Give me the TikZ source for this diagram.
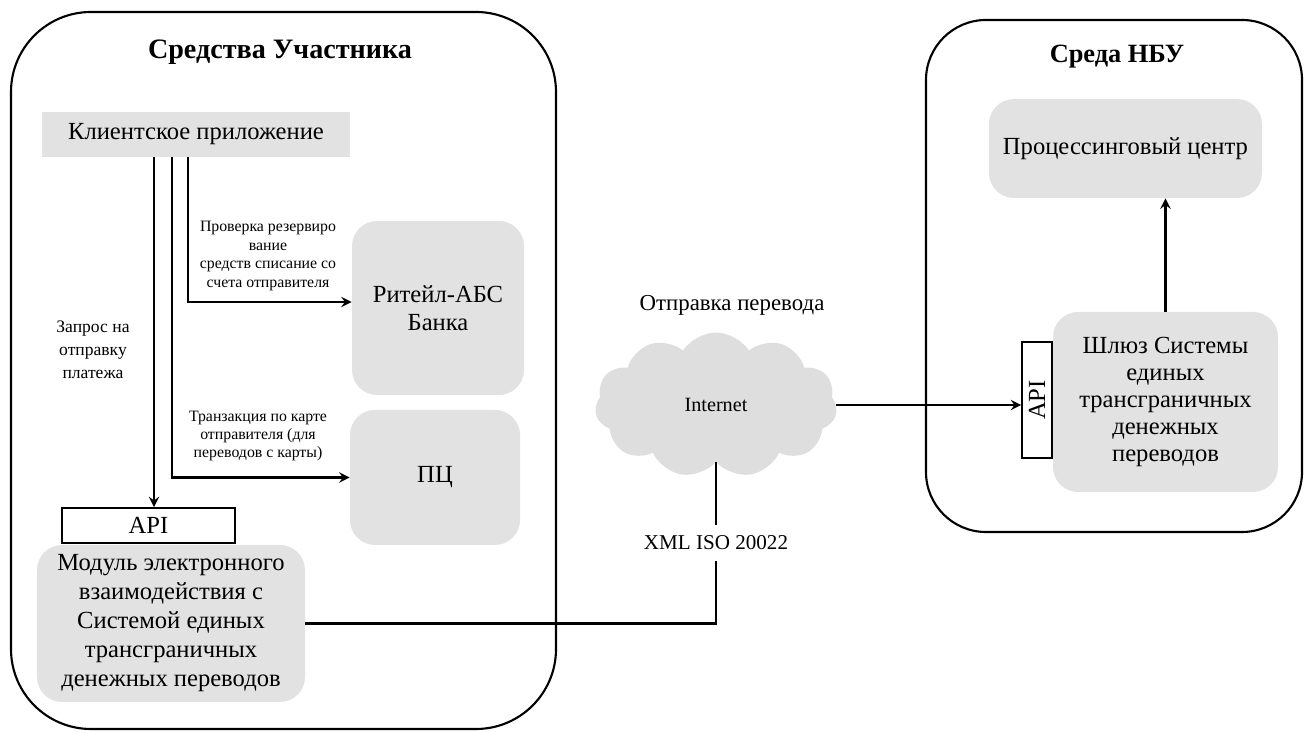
\documentclass[tikz,border=0pt]{standalone}
\usepackage{fontspec}
\setmainfont{Liberation Serif}
\usepackage{tikz}
\usetikzlibrary{arrows,shapes,positioning}
\usepackage{xcolor}
\definecolor{boxgray}{RGB}{226,226,226}
\definecolor{cloudgray}{RGB}{222,222,222}
\tikzstyle{arrow} = [line width=1.6pt,->,>=stealth]
\tikzstyle{wire} = [line width=1.6pt]
\tikzstyle{frame} = [draw, line width=1.2pt]
\tikzstyle{grbox} = [fill=boxgray, rounded corners=0.5cm, align=center, font=\fontsize{14}{16}\selectfont]
\tikzstyle{apibox} = [draw, line width=0.9pt, fill=white, inner sep=0pt, font=\fontsize{14}{16}\selectfont]
\tikzstyle{lbl} = [align=center, font=\fontsize{9}{10.5}\selectfont]

\begin{document}
\begin{tikzpicture}[x=0.2mm, y=0.2mm]
\useasboundingbox (0,0) rectangle (1306,733);
% participant side
\node[frame, rounded corners=1.6cm, minimum width=10.9cm, minimum height=14.34cm] (partic) at (283.5,362.5) {};
\node[font=\fontsize{16}{19}\selectfont\bfseries] (partitle) at (280,681) {Средства Участника};
\node[fill=boxgray, minimum width=6.16cm, minimum height=0.9cm, font=\fontsize{14}{16}\selectfont] (client) at (196,598.5) {Клиентское приложение};
\node[grbox, minimum width=3.44cm, minimum height=3.48cm] (ritail) at (438,425) {Ритейл-АБС\\Банка};
\node[grbox, minimum width=3.4cm, minimum height=2.7cm] (pc) at (435,255.5) {ПЦ};
\node[apibox, minimum width=3.46cm, minimum height=0.7cm] (api) at (148.5,207.5) {API};
\node[grbox, font=\fontsize{14}{16.5}\selectfont, minimum width=5.36cm, minimum height=3.14cm] (module) at (171,109.5) {Модуль электронного\\взаимодействия с\\Системой единых\\трансграничных\\денежных переводов};
\node[lbl, font=\fontsize{10}{13}\selectfont] (reqlbl) at (93,383) {Запрос на\\отправку\\платежа};
\node[lbl] (checklbl) at (268,477) {Проверка резервиро\\вание\\средств списание со\\счета отправителя};
\node[lbl] (cardlbl) at (258,297) {Транзакция по карте\\отправителя (для\\переводов с карты)};

% internet
\node[cloud, cloud puffs=11, cloud puff arc=115, aspect=1.8, fill=cloudgray, minimum width=4.84cm, minimum height=2.9cm, font=\fontsize{11.5}{13}\selectfont] (cloud) at (716,328) {Internet};
\node[font=\fontsize{13}{15}\selectfont] (sendlbl) at (732,428) {Отправка перевода};

% NBU side
\node[frame, rounded corners=1.2cm, minimum width=7.52cm, minimum height=10.24cm] (nbu) at (1114,457) {};
\node[font=\fontsize{15}{18}\selectfont\bfseries] (nbutitle) at (1117,676) {Среда НБУ};
\node[grbox, minimum width=5.46cm, minimum height=1.98cm] (proc) at (1125.5,584.5) {Процессинговый центр};
\node[grbox, font=\fontsize{14}{15.5}\selectfont, minimum width=4.5cm, minimum height=3.6cm] (shluz) at (1165.5,331) {Шлюз Системы\\единых\\трансграничных\\денежных\\переводов};
\node[apibox, rotate=90, minimum width=2.32cm, minimum height=0.6cm] (apir) at (1037,333) {API};

% connectors
\draw[arrow] ([xshift=-0.84cm]client.south) -- ([xshift=-0.84cm]client.south |- api.north);
\draw[arrow] ([xshift=-0.48cm]client.south) |- (pc.west);
\draw[arrow] ([xshift=-0.16cm]client.south) |- ([yshift=0.12cm]ritail.west);
\draw[wire] (module.east) -| node[pos=0.75, fill=white, inner ysep=0.22cm, font=\fontsize{12}{14}\selectfont] (xmllbl) {XML ISO 20022} (cloud.south);
\draw[arrow] (cloud.east) -- (cloud.east -| apir.north);
\draw[arrow] (shluz.north) -- (shluz.north |- proc.south);
\end{tikzpicture}
\end{document}
